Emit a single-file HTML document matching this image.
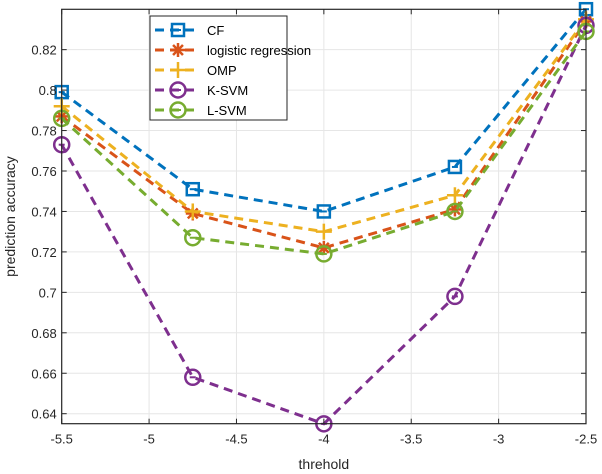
<!DOCTYPE html>
<html><head><meta charset="utf-8"><style>
body{margin:0;background:#fff}
svg{display:block;font-family:"Liberation Sans",Arial,sans-serif}
</style></head><body>
<svg id="chart" width="602" height="474" viewBox="0 0 602 474"></svg>
<script>
const xVals=[-5.5,-4.75,-4,-3.25,-2.5];
const cfVals=[0.799,0.751,0.740,0.762,0.840];
const logVals=[0.787,0.739,0.722,0.741,0.834];
const ompVals=[0.792,0.740,0.730,0.748,0.835];
const ksvmVals=[0.773,0.658,0.635,0.698,0.832];
const lsvmVals=[0.786,0.727,0.719,0.740,0.829];
const xTicks=[-5.5,-5,-4.5,-4,-3.5,-3,-2.5];
const yTicks=[0.64,0.66,0.68,0.7,0.72,0.74,0.76,0.78,0.8,0.82];
const seriesNames=["CF","logistic regression","OMP","K-SVM","L-SVM"];

const svg=document.getElementById('chart');
const NS='http://www.w3.org/2000/svg';
const L=61.7,R=586,T=9.3,B=423.7;
const X=v=>L+(v+5.5)/3*(R-L);
const Y=v=>413.7-(v-0.64)/0.02*40.45;
function mk(tag,attrs,parent){const e=document.createElementNS(NS,tag);for(const k in attrs)e.setAttribute(k,attrs[k]);(parent||svg).appendChild(e);return e;}

const grid=mk('g',{});


xTicks.forEach(t=>{mk('line',{x1:X(t),x2:X(t),y1:T,y2:B,stroke:'#e6e6e6','stroke-width':1},grid);});
yTicks.forEach(t=>{mk('line',{x1:L,x2:R,y1:Y(t),y2:Y(t),stroke:'#e6e6e6','stroke-width':1},grid);});

const colors=['#0072BD','#D95319','#EDB120','#7E2F8E','#77AC30'];
const all=[cfVals,logVals,ompVals,ksvmVals,lsvmVals];
function marker(kind,cx,cy,c,g){
  if(kind===0){mk('rect',{x:cx-6,y:cy-6,width:12,height:12,fill:'none',stroke:c,'stroke-width':2.5},g);mk('line',{x1:cx-3,x2:cx+3,y1:cy,y2:cy,stroke:c,'stroke-width':2},g);}
  else if(kind===1){for(let a=0;a<4;a++){const r=a*Math.PI/4;mk('line',{x1:cx-7*Math.cos(r),y1:cy-7*Math.sin(r),x2:cx+7*Math.cos(r),y2:cy+7*Math.sin(r),stroke:c,'stroke-width':2.5},g);}}
  else if(kind===2){mk('line',{x1:cx-8,x2:cx+8,y1:cy,y2:cy,stroke:c,'stroke-width':2.5},g);mk('line',{x1:cx,x2:cx,y1:cy-8,y2:cy+8,stroke:c,'stroke-width':2.5},g);}
  else {mk('circle',{cx:cx,cy:cy,r:7.5,fill:'none',stroke:c,'stroke-width':2.5},g);mk('line',{x1:cx-3,x2:cx+3,y1:cy,y2:cy,stroke:c,'stroke-width':2},g);}
}
all.forEach((vals,i)=>{
  const g=mk('g',{});
  
  
  mk('polyline',{points:vals.map((v,j)=>X(xVals[j])+','+Y(v)).join(' '),fill:'none',stroke:colors[i],'stroke-width':3,'stroke-dasharray':'9,6'},g);
  vals.forEach((v,j)=>marker(i,X(xVals[j]),Y(v),colors[i],g));
});

const ax=mk('g',{});


mk('rect',{x:L,y:T,width:R-L,height:B-T,fill:'none',stroke:'#262626','stroke-width':1.2},ax);
xTicks.forEach(t=>{
  mk('line',{x1:X(t),x2:X(t),y1:B,y2:B-5,stroke:'#262626'},ax);
  mk('line',{x1:X(t),x2:X(t),y1:T,y2:T+5,stroke:'#262626'},ax);
  const tx=mk('text',{x:X(t),y:B+20,'text-anchor':'middle','font-size':13,fill:'#262626'},ax);
  tx.textContent=String(t);
  
  
});
yTicks.forEach(t=>{
  mk('line',{x1:L,x2:L+5,y1:Y(t),y2:Y(t),stroke:'#262626'},ax);
  mk('line',{x1:R,x2:R-5,y1:Y(t),y2:Y(t),stroke:'#262626'},ax);
  const tx=mk('text',{x:L-5,y:Y(t)+5,'text-anchor':'end','font-size':13,fill:'#262626'},ax);
  tx.textContent=String(t);
  
  
});
const xl=mk('text',{x:(L+R)/2,y:469,'text-anchor':'middle','font-size':14,fill:'#262626'});
xl.textContent='threhold';


const yl=mk('text',{x:0,y:0,'text-anchor':'middle','font-size':14,fill:'#262626',transform:'translate(15,'+((T+B)/2)+') rotate(-90)'});
yl.textContent='prediction accuracy';



const lg=mk('g',{});


mk('rect',{x:150,y:16,width:137,height:104,fill:'#fff',stroke:'#262626','stroke-width':1},lg);
seriesNames.forEach((n,i)=>{
  const cy=30+i*20;
  const e=mk('g',{},lg);
  
  
  mk('line',{x1:155,x2:200,y1:cy,y2:cy,stroke:colors[i],'stroke-width':3,'stroke-dasharray':'9,6'},e);
  marker(i,178,cy,colors[i],e);
  const t=mk('text',{x:207,y:cy+5,'font-size':13,fill:'#000'},e);
  t.textContent=n;
});
</script>
</body></html>
